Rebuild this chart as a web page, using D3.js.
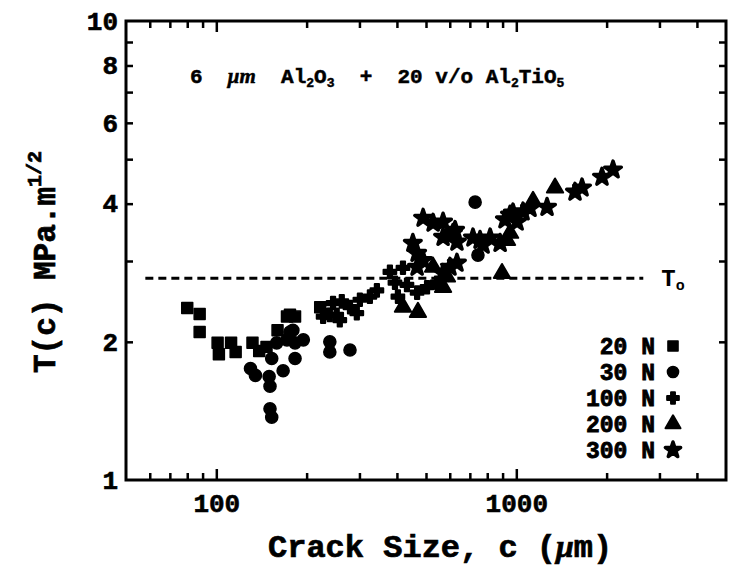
<!DOCTYPE html>
<html>
<head>
<meta charset="utf-8">
<script src="https://cdn.jsdelivr.net/npm/d3@7"></script>
<style>
  body { margin: 0; background: #fff; }
  svg text { font-family: "Liberation Mono", "Courier New", monospace; font-weight: bold; fill: #000; }
</style>
</head>
<body>
<div id="chart"></div>
<script>
// crack size c (um) vs toughness T(c) (MPa.m^1/2), one array per indentation load
const load20N = [[80,2.37],[88,2.30],[88,2.10],[101,1.99],[102,1.88],[112,1.99],[116,1.90],[132,1.99],
  [139,1.91],[147,1.95],[160,2.12],[172,2.27],[183,2.27],[222,2.38],[232,2.30],[176,2.29]];
const load30N = [[130,1.75],[135,1.69],[150,1.68],[151,1.60],[151,1.43],[153,1.37],[167,1.73],[159,1.99],
  [172,2.02],[176,2.10],[183,1.99],[195,2.02],[153,1.84],[183,1.84],[239,2.00],[239,1.90],[279,1.92],
  [180,2.12],[729,4.03],[745,3.09]];
const load100N = [[227,2.27],[252,2.29],[258,2.23],[279,2.38],[294,2.31],[301,2.47],[325,2.51],[343,2.59],
  [379,2.84],[394,2.69],[403,2.51],[419,2.90],[432,2.66],[467,2.56],[504,2.63],[544,2.69],[245,2.43],
  [262,2.45],[239,2.29]];
const load200N = [[419,2.38],[470,2.32],[528,2.91],[570,2.63],[587,2.77],[896,2.82],[931,3.33],[953,3.45],
  [1137,4.05],[1346,4.33]];
const load300N = [[452,3.28],[467,3.12],[489,3.01],[467,2.91],[489,3.72],[528,3.63],[570,3.65],[615,3.45],
  [625,3.50],[634,3.30],[570,3.38],[570,2.82],[601,2.91],[634,2.97],[717,3.37],[757,3.33],[775,3.25],
  [818,3.37],[883,3.28],[917,3.69],[953,3.78],[975,3.82],[1006,3.65],[1053,3.84],[1111,3.91],[1266,3.93],
  [1569,4.24],[1656,4.33],[1930,4.57],[2101,4.74]];

const legendLabels = ["20 N", "30 N", "100 N", "200 N", "300 N"];

const xLabelTicks = [100, 1000];
const xMinorTicks = [60,70,80,90,200,300,400,500,600,700,800,900,2000,3000,4000];
const yLabelTicks = [1, 2, 4, 6, 8, 10];
const yMinorTicks = [2,3,4,5,6,7,8,9];

const t0 = 2.75;
const t0Range = [58, 2650];

const width = 731, height = 574;
const svg = d3.select("#chart").append("svg")
  .attr("width", width)
  .attr("height", height);
svg.append("rect").attr("width", width).attr("height", height).attr("fill", "#fff");

const x = d3.scaleLog().domain([50, 5000]).range([126, 726]);
const y = d3.scaleLog().domain([1, 10]).range([480, 21]);

// frame
svg.append("rect")
  .attr("x", x.range()[0]).attr("y", y.range()[1])
  .attr("width", x.range()[1] - x.range()[0])
  .attr("height", y.range()[0] - y.range()[1])
  .attr("fill", "none").attr("stroke", "#000").attr("stroke-width", 3);

// inward ticks on all four sides
function ticks(axis, transform) {
  const g = svg.append("g").attr("transform", transform).call(axis);
  g.select(".domain").remove();
  g.selectAll(".tick line").attr("stroke", "#000").attr("stroke-width", 2.5);
  return g;
}
const yb = y.range()[0], yt = y.range()[1], xl = x.range()[0], xr = x.range()[1];

ticks(d3.axisBottom(x).tickValues(xMinorTicks).tickFormat("").tickSize(-7), `translate(0,${yb})`);
ticks(d3.axisTop(x).tickValues(xMinorTicks).tickFormat("").tickSize(-7), `translate(0,${yt})`);
ticks(d3.axisTop(x).tickValues(xLabelTicks).tickFormat("").tickSize(-11), `translate(0,${yt})`);
const xLab = ticks(d3.axisBottom(x).tickValues(xLabelTicks).tickFormat(d3.format("d")).tickSize(-11).tickPadding(14),
  `translate(0,${yb})`);
xLab.selectAll("text").style("font-size", "26px").attr("stroke", "#000").attr("stroke-width", 0.6);

ticks(d3.axisLeft(y).tickValues(yMinorTicks).tickFormat("").tickSize(-7), `translate(${xl},0)`);
ticks(d3.axisRight(y).tickValues(yMinorTicks).tickFormat("").tickSize(-7), `translate(${xr},0)`);
const yLab = ticks(d3.axisLeft(y).tickValues(yLabelTicks).tickFormat(d3.format("d")).tickSize(0).tickPadding(8),
  `translate(${xl},0)`);
yLab.selectAll("text").style("font-size", "26px").attr("stroke", "#000").attr("stroke-width", 0.6);

// T0 reference line
svg.append("line")
  .attr("x1", x(t0Range[0])).attr("x2", x(t0Range[1]))
  .attr("y1", y(t0)).attr("y2", y(t0))
  .attr("stroke", "#000").attr("stroke-width", 3)
  .attr("stroke-dasharray", "8,5");
const t0Text = svg.append("text")
  .attr("x", x(t0Range[1]) + 18).attr("y", y(t0) + 8)
  .style("font-size", "24px");
t0Text.append("tspan").text("T");
t0Text.append("tspan").attr("dy", 4).style("font-size", "15px").text("o");

// markers per series
const shapes = [
  { data: load20N,  type: d3.symbolSquare,   size: 120, sw: 1.5 },
  { data: load30N,  type: d3.symbolCircle,   size: 115, sw: 1.5 },
  { data: load100N, type: d3.symbolCross,    size: 90,  sw: 2 },
  { data: load200N, type: d3.symbolTriangle, size: 115, sw: 2 },
  { data: load300N, type: d3.symbolStar,     size: 85,  sw: 3.5 }
];

shapes.forEach(s => {
  const sym = d3.symbol().type(s.type).size(s.size);
  svg.append("g").selectAll("path")
    .data(s.data)
    .enter()
    .append("path")
    .attr("transform", d => `translate(${x(d[0])},${y(d[1])})`)
    .attr("d", sym)
    .attr("fill", "#000")
    .attr("stroke", "#000")
    .attr("stroke-width", s.sw)
    .attr("stroke-linejoin", "round");
});

// legend
const legend = svg.append("g");
legendLabels.forEach((lab, i) => {
  const ly = 346 + i * 26;
  legend.append("text")
    .attr("x", 655).attr("y", ly + 8)
    .attr("text-anchor", "end")
    .style("font-size", "23px")
    .attr("stroke", "#000").attr("stroke-width", 0.8)
    .text(lab);
  legend.append("path")
    .attr("transform", `translate(673,${ly})`)
    .attr("d", d3.symbol().type(shapes[i].type).size(shapes[i].size * 0.85))
    .attr("fill", "#000").attr("stroke", "#000").attr("stroke-width", shapes[i].sw)
    .attr("stroke-linejoin", "round");
});

// composition note
const note = svg.append("text")
  .attr("x", 190).attr("y", 83)
  .attr("xml:space", "preserve")
  .style("white-space", "pre")
  .style("font-size", "21px")
  .attr("stroke", "#000").attr("stroke-width", 0.5);
note.append("tspan").text("6  ");
note.append("tspan").style("font-style", "italic").style("font-family", "'Liberation Serif', serif").text("\u03bcm");
note.append("tspan").text("  Al");
note.append("tspan").attr("dy", 4).style("font-size", "13px").text("2");
note.append("tspan").attr("dy", -4).text("O");
note.append("tspan").attr("dy", 4).style("font-size", "13px").text("3");
note.append("tspan").attr("dy", -4).text("  +  20 v/o Al");
note.append("tspan").attr("dy", 4).style("font-size", "13px").text("2");
note.append("tspan").attr("dy", -4).text("TiO");
note.append("tspan").attr("dy", 4).style("font-size", "13px").text("5");

// axis titles
const xTitle = svg.append("text")
  .attr("x", 268).attr("y", 557)
  .attr("xml:space", "preserve")
  .style("white-space", "pre")
  .style("font-size", "32px")
  .attr("stroke", "#000").attr("stroke-width", 0.7);
xTitle.append("tspan").text("Crack Size, c (");
xTitle.append("tspan").style("font-style", "italic").style("font-family", "'Liberation Serif', serif").text("\u03bc");
xTitle.append("tspan").text("m)");

const yTitle = svg.append("text")
  .attr("transform", "translate(55,262) rotate(-90)")
  .attr("text-anchor", "middle")
  .style("font-size", "31px")
  .attr("stroke", "#000").attr("stroke-width", 0.7);
yTitle.append("tspan").text("T(c) MPa.m");
yTitle.append("tspan").attr("dy", -14).style("font-size", "20px").text("1/2");
</script>
</body>
</html>
